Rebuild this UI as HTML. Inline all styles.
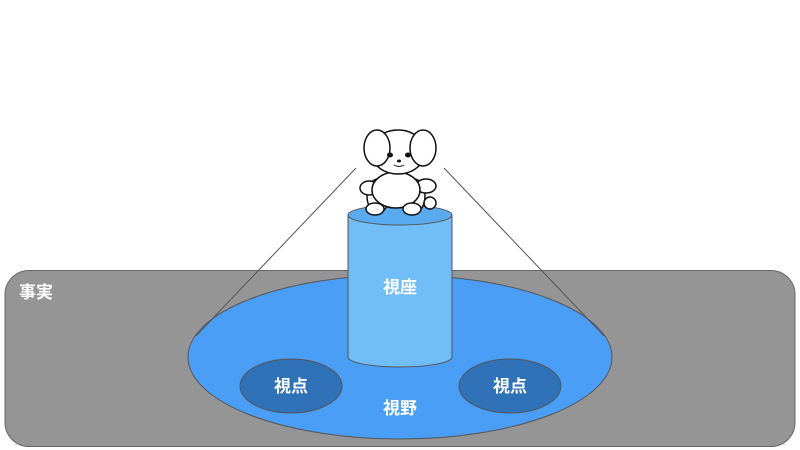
<!DOCTYPE html>
<html><head><meta charset="utf-8"><style>body{margin:0;background:#fff}svg{display:block}</style></head><body>
<svg width="800" height="450" viewBox="0 0 800 450" xmlns="http://www.w3.org/2000/svg" font-family="'Liberation Sans','Noto Sans CJK JP',sans-serif">
<rect x="5" y="270.5" width="790" height="176" rx="24" fill="#959595" stroke="#666"/>
<ellipse cx="400" cy="357" rx="212" ry="82" fill="#4a9ef5" stroke="#555"/>
<line x1="356" y1="168" x2="196" y2="336" stroke="#555" stroke-width="1"/>
<line x1="444" y1="168" x2="604" y2="336" stroke="#555" stroke-width="1"/>
<path d="M348 215 L348 357 A52 10 0 0 0 452 357 L452 215 Z" fill="#70bdf8" stroke="#555"/>
<ellipse cx="400" cy="215" rx="52" ry="10" fill="#5aaaf0" stroke="#555"/>
<ellipse cx="291" cy="386" rx="51" ry="27" fill="#2f72b8" stroke="#555"/>
<ellipse cx="510" cy="386" rx="51" ry="27" fill="#2f72b8" stroke="#555"/>
<g fill="#fff" font-size="17" font-weight="bold" text-anchor="middle">
<text x="400" y="293">視座</text>
<text x="400" y="414">視野</text>
<text x="291" y="392">視点</text>
<text x="510" y="392">視点</text>
<text x="36" y="298">事実</text>
</g>
<g fill="#fff" stroke="#111" stroke-width="1.5">
<ellipse cx="378" cy="196" rx="11" ry="17"/>
<ellipse cx="414" cy="196" rx="11" ry="17"/>
<ellipse cx="369" cy="188" rx="9" ry="7"/>
<ellipse cx="426" cy="186" rx="10" ry="7"/>
<ellipse cx="396" cy="190" rx="24" ry="18"/>
<ellipse cx="375" cy="209" rx="9" ry="6"/>
<ellipse cx="412" cy="209" rx="9" ry="6"/>
<ellipse cx="430" cy="203" rx="6" ry="6"/>
<ellipse cx="398" cy="152" rx="27" ry="22"/>
<ellipse cx="377" cy="148" rx="13" ry="18"/>
<ellipse cx="423" cy="148" rx="13" ry="18"/>
</g>
<ellipse cx="390" cy="155" rx="3" ry="2.5" fill="#111"/>
<ellipse cx="408" cy="155" rx="3" ry="2.5" fill="#111"/>
<ellipse cx="399" cy="161" rx="2" ry="1.5" fill="#111"/>
<path d="M394 165 Q399 168 404 165" fill="none" stroke="#111" stroke-width="1"/>
</svg>
</body></html>
